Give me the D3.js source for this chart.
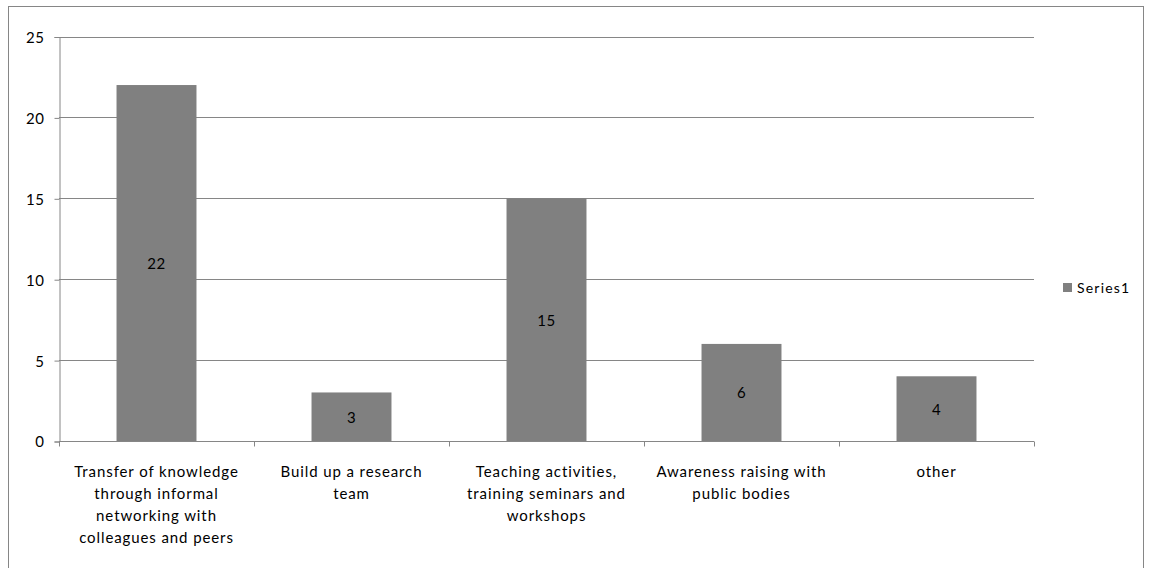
<!DOCTYPE html>
<html>
<head>
<meta charset="utf-8">
<script src="https://cdn.jsdelivr.net/npm/d3@7"></script>
<style>
  html, body { margin: 0; padding: 0; background: #fff; }
  svg { display: block; }
  text { font-family: Lato, "Open Sans", sans-serif; fill: #000; }
</style>
</head>
<body>
<svg id="chart" width="1149" height="568"></svg>
<script>
// Category labels, pre-wrapped into lines
const categories = [
  ["Transfer of knowledge", "through informal", "networking with", "colleagues and peers"],
  ["Build up a research", "team"],
  ["Teaching activities,", "training seminars and", "workshops"],
  ["Awareness raising with", "public bodies"],
  ["other"]
];
const values = [22, 3, 15, 6, 4];
const yTicks = [0, 5, 10, 15, 20, 25];
const seriesName = "Series1";

const svg = d3.select("#chart");
const plot = { left: 59, right: 1034, top: 36.5, bottom: 441 };
const gridColor = "#868686";
const barColor = "#808080";
const fontSize = 15;

// outer frame (bottom edge runs past the canvas)
svg.append("rect")
  .attr("x", 8.5).attr("y", 6.5)
  .attr("width", 1135).attr("height", 570)
  .attr("fill", "#fff").attr("stroke", "#868686").attr("stroke-width", 1);

const x = d3.scaleBand()
  .domain(d3.range(categories.length))
  .range([plot.left, plot.right])
  .paddingInner(0.59).paddingOuter(0.295);

const y = d3.scaleLinear().domain([0, 25]).range([plot.bottom, plot.top]);

// horizontal gridlines
svg.append("g").selectAll("line")
  .data(yTicks.filter(d => d > 0))
  .join("line")
  .attr("x1", plot.left).attr("x2", plot.right)
  .attr("y1", d => Math.round(y(d)) + 0.5).attr("y2", d => Math.round(y(d)) + 0.5)
  .attr("stroke", gridColor).attr("stroke-width", 1);

// y axis
const yAxis = d3.axisLeft(y).tickValues(yTicks).tickSize(5).tickPadding(10);
const gy = svg.append("g").attr("transform", `translate(${plot.left + 0.5},0.5)`).call(yAxis);
gy.select(".domain").attr("stroke", gridColor);
gy.selectAll(".tick line").attr("stroke", gridColor);
gy.selectAll(".tick text")
  .attr("font-size", fontSize)
  .attr("font-family", "Lato, sans-serif")
  .attr("letter-spacing", "0.5px")
  .attr("fill", "#000").attr("dy", "0.36em");

// bars
svg.append("g").selectAll("rect")
  .data(values)
  .join("rect")
  .attr("x", (d, i) => x(i))
  .attr("width", x.bandwidth())
  .attr("y", d => y(d))
  .attr("height", d => y(0) - y(d))
  .attr("fill", barColor);

// value labels in the middle of each bar
svg.append("g").selectAll("text")
  .data(values)
  .join("text")
  .attr("x", (d, i) => x(i) + x.bandwidth() / 2)
  .attr("y", d => (y(0) + y(d)) / 2)
  .attr("dy", "0.4em")
  .attr("text-anchor", "middle")
  .attr("font-size", fontSize)
  .attr("letter-spacing", "0.5px")
  .text(d => d);

// x axis baseline and category separators
const step = (plot.right - plot.left) / categories.length;
const bottomY = Math.round(y(0)) + 0.5;
svg.append("line")
  .attr("x1", plot.left).attr("x2", plot.right)
  .attr("y1", bottomY).attr("y2", bottomY)
  .attr("stroke", gridColor);
svg.append("g").selectAll("line")
  .data(d3.range(categories.length + 1))
  .join("line")
  .attr("x1", i => Math.round(plot.left + i * step) + 0.5)
  .attr("x2", i => Math.round(plot.left + i * step) + 0.5)
  .attr("y1", bottomY).attr("y2", bottomY + 5)
  .attr("stroke", gridColor);

// category labels
const catG = svg.append("g").selectAll("text")
  .data(categories)
  .join("text")
  .attr("text-anchor", "middle")
  .attr("font-size", fontSize)
  .attr("letter-spacing", "0.9px");
catG.each(function(lines, i) {
  const t = d3.select(this);
  lines.forEach((ln, k) => {
    t.append("tspan")
      .attr("x", x(i) + x.bandwidth() / 2)
      .attr("y", 477 + k * 22)
      .text(ln);
  });
});

// legend
const lg = svg.append("g").attr("transform", "translate(1063,283)");
lg.append("rect").attr("width", 9).attr("height", 9).attr("fill", barColor);
lg.append("text").attr("x", 14).attr("y", 10).attr("font-size", 14).attr("letter-spacing", "1.2px").text(seriesName);
</script>
</body>
</html>
